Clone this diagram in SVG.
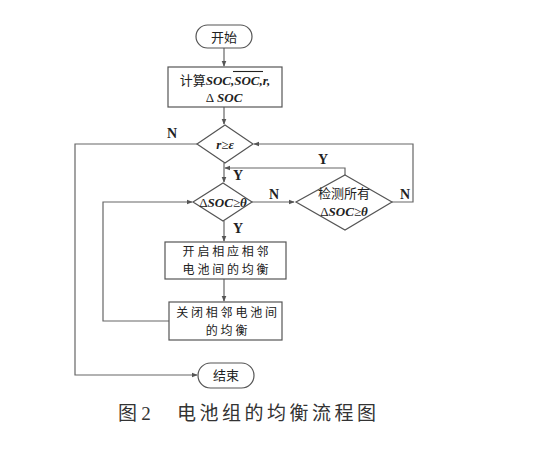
<svg xmlns="http://www.w3.org/2000/svg" width="554" height="457" viewBox="0 0 554 457">
<style>
.s{fill:#fff;stroke:#555;stroke-width:1.2}
.c{fill:none;stroke:#666;stroke-width:1.2}
.t{font-family:"Noto Sans CJK SC","Noto Sans CJK JP",sans-serif;font-size:13px;fill:#222;text-anchor:middle}
.b{font-size:12px;letter-spacing:2.8px}
.m{font-family:"Liberation Serif",serif;font-style:italic;font-weight:bold}
.l{font-family:"Liberation Serif",serif;font-weight:bold;font-size:14px;fill:#222;text-anchor:middle}
.cap{font-family:"Noto Sans CJK SC",sans-serif;font-size:19px;fill:#333}
</style>
<defs>
<marker id="a" viewBox="0 0 8 8" refX="7" refY="4" markerWidth="6" markerHeight="6" orient="auto" markerUnits="userSpaceOnUse">
<path d="M0,0.8 L8,4 L0,7.2 Z" fill="#555"/>
</marker>
</defs>
<rect width="554" height="457" fill="#fff"/>
<g id="connectors">
<path class="c" d="M224,48 V66" marker-end="url(#a)"/>
<path class="c" d="M224,107 V124" marker-end="url(#a)"/>
<path class="c" d="M224,163 V182" marker-end="url(#a)"/>
<path class="c" d="M197,144 H75 V375 H197" marker-end="url(#a)"/>
<path class="c" d="M224,221 V241" marker-end="url(#a)"/>
<path class="c" d="M224,279 V301" marker-end="url(#a)"/>
<path class="c" d="M169,321 H103 V202 H192" marker-end="url(#a)"/>
<path class="c" d="M252,202 H294" marker-end="url(#a)"/>
<path class="c" d="M345,175 V168 H225" marker-end="url(#a)"/>
<path class="c" d="M392,202 H413 V144 H254" marker-end="url(#a)"/>
<text class="l" x="172" y="138">N</text>
<text class="l" x="238" y="180">Y</text>
<text class="l" x="238" y="233">Y</text>
<text class="l" x="274" y="199">N</text>
<text class="l" x="323" y="164">Y</text>
<text class="l" x="405" y="199">N</text>
</g>
<g id="start">
<rect class="s" x="196" y="25" width="56" height="23" rx="11.5"/>
<text class="t" x="224" y="41.5">开始</text>
</g>
<g id="calc">
<rect class="s" x="168" y="67" width="114" height="40"/>
<text class="t" x="225" y="85" font-size="15"><tspan>计算</tspan><tspan class="m">SOC</tspan><tspan class="m">,</tspan><tspan class="m">SOC</tspan><tspan class="m">,r,</tspan></text>
<line x1="233" y1="71.5" x2="263" y2="71.5" stroke="#222" stroke-width="1.1"/>
<text class="t" x="224" y="102" font-size="14"><tspan font-family="Liberation Serif,serif">Δ</tspan><tspan class="m" dx="3">SOC</tspan></text>
</g>
<g id="d1">
<polygon class="s" points="225,125 253,144 225,163 197,144"/>
<text class="t" x="225" y="148.5"><tspan class="m" font-weight="normal">r</tspan><tspan font-family="Liberation Serif,serif">≥</tspan><tspan class="m" font-weight="normal">ε</tspan></text>
</g>
<g id="d2">
<polygon class="s" points="223,183 252,202 223,221 193,202"/>
<text class="t" x="223" y="206.5" font-size="12"><tspan font-family="Liberation Serif,serif">Δ</tspan><tspan class="m" font-weight="normal">SOC</tspan><tspan font-family="Liberation Serif,serif">≥</tspan><tspan class="m" font-weight="normal">θ</tspan></text>
</g>
<g id="d3">
<polygon class="s" points="345,175 392,202 345,230 296,202"/>
<text class="t" x="344" y="198" font-size="12">检测所有</text>
<text class="t" x="344" y="216" font-size="12"><tspan font-family="Liberation Serif,serif">Δ</tspan><tspan class="m" font-weight="normal">SOC</tspan><tspan font-family="Liberation Serif,serif">≥</tspan><tspan class="m" font-weight="normal">θ</tspan></text>
</g>
<g id="open">
<rect class="s" x="165" y="242" width="121" height="37"/>
<text class="t b" x="227" y="256">开启相应相邻</text>
<text class="t b" x="227" y="274">电池间的均衡</text>
</g>
<g id="close">
<rect class="s" x="169" y="302" width="113" height="38"/>
<text class="t b" x="228" y="316.5">关闭相邻电池间</text>
<text class="t b" x="228" y="334.5">的均衡</text>
</g>
<g id="end">
<rect class="s" x="198" y="363" width="56" height="25" rx="12.5"/>
<text class="t" x="226" y="380">结束</text>
</g>
<g id="caption">
<text class="cap" x="118" y="420">图 <tspan font-family="Liberation Serif,serif">2</tspan></text>
<text class="cap" x="177" y="420" letter-spacing="3.5">电池组的均衡流程图</text>
</g>
</svg>
